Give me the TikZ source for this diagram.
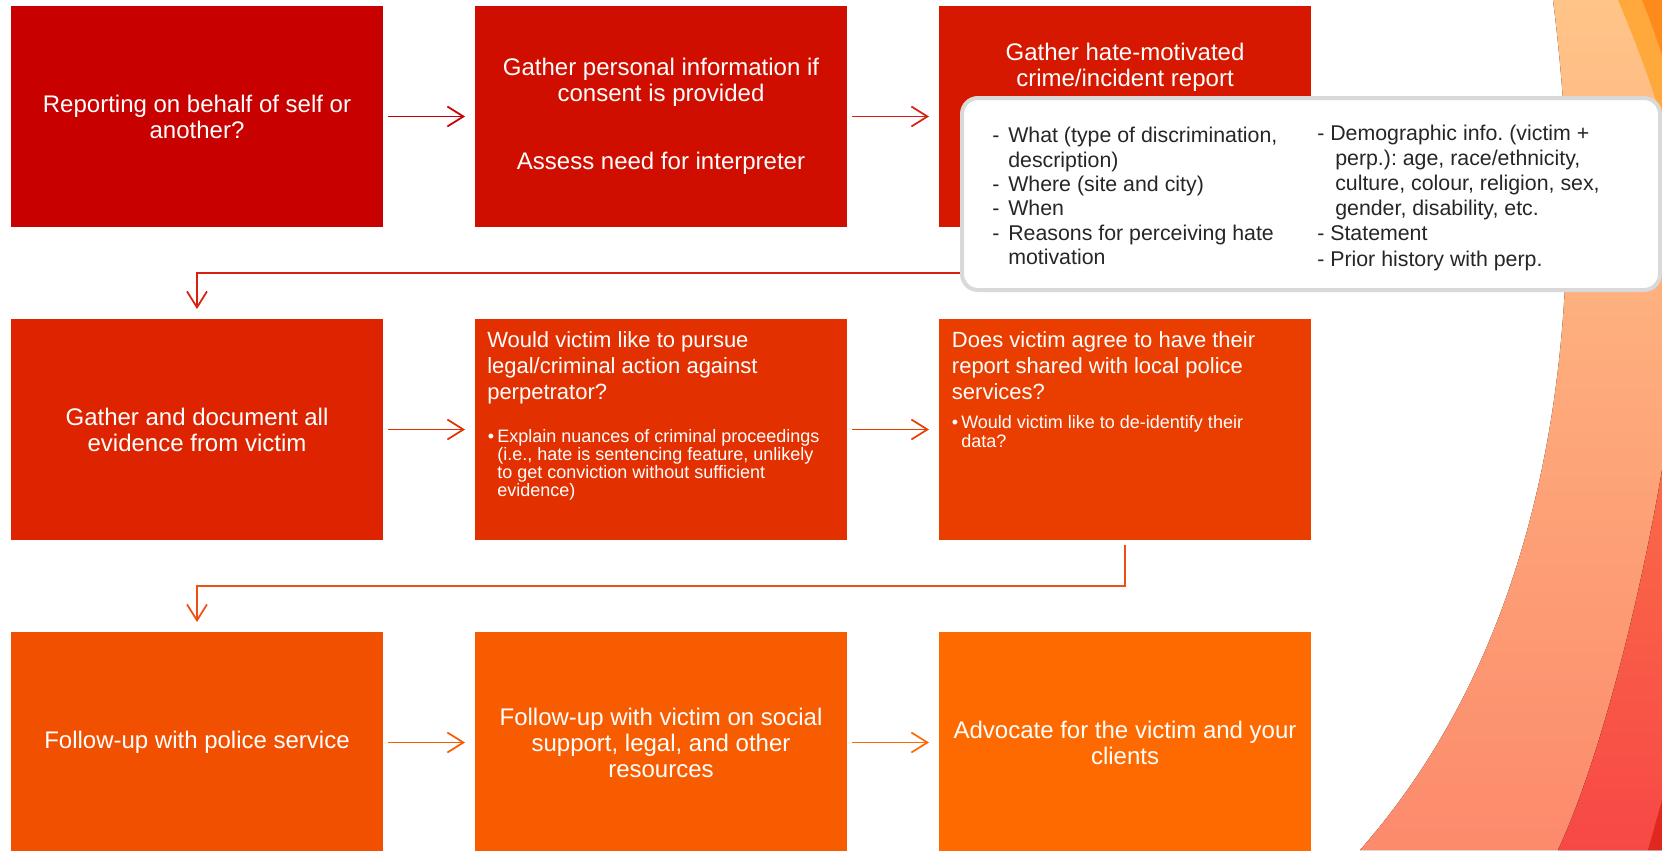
\documentclass[tikz,border=0pt]{standalone}
\usepackage{fontspec}
\setmainfont{Liberation Sans}
\usetikzlibrary{arrows.meta, positioning}
\definecolor{boxA}{RGB}{200, 0, 0}
\definecolor{boxB}{RGB}{208, 14, 0}
\definecolor{boxC}{RGB}{214, 24, 0}
\definecolor{boxD}{RGB}{221, 35, 0}
\definecolor{boxE}{RGB}{226, 48, 0}
\definecolor{boxF}{RGB}{234, 62, 0}
\definecolor{boxG}{RGB}{241, 80, 0}
\definecolor{boxH}{RGB}{247, 92, 0}
\definecolor{boxI}{RGB}{255, 106, 0}
\definecolor{linkA}{RGB}{216, 32, 16}
\definecolor{linkB}{RGB}{238, 80, 20}
\definecolor{infoline}{RGB}{217, 217, 217}
\definecolor{infoink}{RGB}{38, 38, 38}
\definecolor{peachtop}{RGB}{255, 196, 136}
\definecolor{peachbot}{RGB}{252, 138, 108}
\definecolor{coraltop}{RGB}{250, 106, 72}
\definecolor{coralbot}{RGB}{247, 72, 70}
\definecolor{wedgered}{RGB}{224, 40, 30}
\definecolor{bandorange}{RGB}{255, 168, 60}
\definecolor{banddark}{RGB}{255, 138, 28}
\newcommand{\dashitem}{\makebox[12pt][l]{-}}
\newcommand{\bulitem}{\makebox[7pt][l]{\textbullet}}
\frenchspacing

\begin{document}
\begin{tikzpicture}[
    x=0.75pt, y=-0.75pt,
    node distance=69pt,
    flowbox/.style={rectangle, minimum width=279pt, minimum height=165.75pt, inner sep=0pt, outer sep=0pt,
                    text=white, align=center, font=\fontsize{18}{19.5}\selectfont},
    boxhead/.style={inner sep=0pt, text=white, align=left, anchor=north west, font=\fontsize{16.5}{19.5}\selectfont},
    boxnote/.style={inner sep=0pt, text=white, align=left, anchor=north west, font=\fontsize{13.5}{14.25}\selectfont},
    infotext/.style={inner sep=0pt, text=infoink, align=left, anchor=north west, font=\fontsize{16}{18.3}\selectfont},
    flow/.style={line width=1.3pt, -{Straight Barb[length=12pt, width=15pt]}}
]
    \useasboundingbox (0,0) rectangle (1662,850);
    \fill[top color=peachtop, bottom color=peachbot] (1553,0) .. controls (1595,330) and (1545,640) .. (1360,850) -- (1662,850) -- (1662,0) -- cycle;
    \fill[top color=coraltop, bottom color=coralbot] (1662,470) .. controls (1640,600) and (1600,760) .. (1558,850) -- (1662,850) -- cycle;
    \fill[wedgered] (1662,800) -- (1648,850) -- (1662,850) -- cycle;
    \fill[bandorange] (1618,0) .. controls (1635,40) and (1650,80) .. (1662,120) -- (1662,0) -- cycle;
    \fill[banddark] (1642,0) .. controls (1650,20) .. (1662,55) -- (1662,0) -- cycle;

    \node[flowbox, fill=boxA] (s1) at (197,116.5) {Reporting on behalf of self or\\another?};
    \node[flowbox, fill=boxB, right=of s1] (s2) {Gather personal information if\\consent is provided\\[31.5pt]Assess need for interpreter};
    \node[flowbox, fill=boxC, right=of s2] (s3) {};
    \node[boxhead, anchor=north, align=center, font=\fontsize{18}{19.5}\selectfont] (s3t) at ([yshift=-27.4pt]s3.north) {Gather hate-motivated\\crime/incident report};

    \node[flowbox, fill=boxD, below=of s1] (s4) {Gather and document all\\evidence from victim};
    \node[flowbox, fill=boxE, right=of s4] (s5) {};
    \node[flowbox, fill=boxF, right=of s5] (s6) {};
    \node[boxhead] (s5t) at ([xshift=9pt, yshift=-9.5pt]s5.north west) {Would victim like to pursue\\legal/criminal action against\\perpetrator?};
    \node[boxnote, font=\fontsize{13.5}{13.5}\selectfont] (s5b) at ([xshift=9.5pt, yshift=-83pt]s5.north west) {\bulitem Explain nuances of criminal proceedings\\\hspace*{7pt}(i.e., hate is sentencing feature, unlikely\\\hspace*{7pt}to get conviction without sufficient\\\hspace*{7pt}evidence)};
    \node[boxhead] (s6t) at ([xshift=9.5pt, yshift=-9.5pt]s6.north west) {Does victim agree to have their\\report shared with local police\\services?};
    \node[boxnote] (s6b) at ([xshift=9.5pt, yshift=-72pt]s6.north west) {\bulitem Would victim like to de-identify their\\\hspace*{7pt}data?};

    \node[flowbox, fill=boxG, below=of s4] (s7) {Follow-up with police service};
    \node[flowbox, fill=boxH, right=of s7] (s8) {Follow-up with victim on social\\support, legal, and other\\resources};
    \node[flowbox, fill=boxI, right=of s8] (s9) {Advocate for the victim and your\\clients};

    \draw[flow, boxA] ([xshift=3.75pt]s1.east) -- ([xshift=-7.5pt]s2.west);
    \draw[flow, linkA] ([xshift=3.75pt]s2.east) -- ([xshift=-7.5pt]s3.west);
    \draw[flow, linkA] (s3.south) -- ++(0,46) -| ([yshift=7.5pt]s4.north);
    \draw[flow, boxE] ([xshift=3.75pt]s4.east) -- ([xshift=-7.5pt]s5.west);
    \draw[flow, boxF] ([xshift=3.75pt]s5.east) -- ([xshift=-7.5pt]s6.west);
    \draw[flow, linkB] ([yshift=-3.75pt]s6.south) -- ++(0,41) -| ([yshift=7.5pt]s7.north);
    \draw[flow, boxH] ([xshift=3.75pt]s7.east) -- ([xshift=-7.5pt]s8.west);
    \draw[flow, boxI] ([xshift=3.75pt]s8.east) -- ([xshift=-7.5pt]s9.west);

    \node[draw=infoline, line width=3pt, rounded corners=12pt, fill=white, minimum width=523.5pt, minimum height=144pt, inner sep=0pt] (info) at (1311,194) {};
    \node[infotext] (infol) at (992,127) {\dashitem What (type of discrimination,\\\hspace*{12pt}description)\\\dashitem Where (site and city)\\\dashitem When\\\dashitem Reasons for perceiving hate\\\hspace*{12pt}motivation};
    \node[infotext, font=\fontsize{16}{18.8}\selectfont] (infor) at (1317,125) {- Demographic info. (victim +\\\hspace*{13.5pt}perp.): age, race/ethnicity,\\\hspace*{13.5pt}culture, colour, religion, sex,\\\hspace*{13.5pt}gender, disability, etc.\\- Statement\\- Prior history with perp.};
\end{tikzpicture}
\end{document}
